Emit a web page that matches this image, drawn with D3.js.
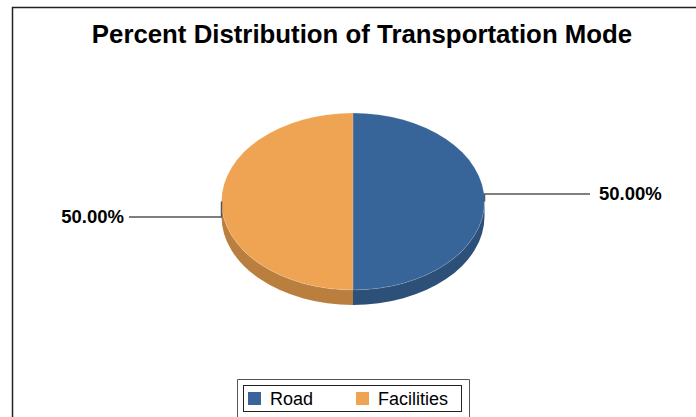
<!DOCTYPE html>
<html>
<head>
<meta charset="utf-8">
<script src="https://cdn.jsdelivr.net/npm/d3@7"></script>
<style>
  body { margin: 0; background: #fff; }
  svg { display: block; font-family: "Liberation Sans", Arial, sans-serif; }
</style>
</head>
<body>
<div id="chart"></div>
<script>
// DATA
const categories = ["Road", "Facilities"];
const values = [50, 50];
const labels = ["50.00%", "50.00%"];
const colors = ["#386599", "#EEA453"];
const sideColors = ["#2D5079", "#BA7F3E"];

const width = 696, height = 417;

// pie geometry (ellipse for the tilted 3D pie)
const cx = 353, cy = 201.5, rx = 131.5, ry = 88.5, depth = 15;

const svg = d3.select("#chart").append("svg")
  .attr("width", width)
  .attr("height", height);

// chart frame (left + top edges only show in the crop)
svg.append("path")
  .attr("d", `M12.5,${height} L12.5,7.5 L${width},7.5`)
  .attr("fill", "none")
  .attr("stroke", "#222")
  .attr("stroke-width", 1.5);

// title
svg.append("text")
  .attr("x", 362)
  .attr("y", 43)
  .attr("text-anchor", "middle")
  .attr("font-size", 25.8)
  .attr("font-weight", "bold")
  .attr("fill", "#000")
  .text("Percent Distribution of Transportation Mode");

const pie = d3.pie().sort(null).value(d => d);
const arcs = pie(values);

// point on the ellipse for a d3 angle (0 = top, clockwise)
const pt = (a, dy = 0) => [cx + rx * Math.sin(a), cy - ry * Math.cos(a) + dy];

// side walls, only the front half is visible
arcs.forEach((d, i) => {
  const s = Math.max(d.startAngle, Math.PI / 2);
  const e = Math.min(d.endAngle, Math.PI * 3 / 2);
  if (e <= s) return;
  const large = e - s > Math.PI ? 1 : 0;
  const p0 = pt(s), p1 = pt(e), q1 = pt(e, depth), q0 = pt(s, depth);
  svg.append("path")
    .attr("d", `M${p0} A${rx},${ry} 0 ${large} 1 ${p1} L${q1} A${rx},${ry} 0 ${large} 0 ${q0} Z`)
    .attr("fill", sideColors[i]);
});

// top face
svg.selectAll("path.slice")
  .data(arcs)
  .join("path")
  .attr("class", "slice")
  .attr("d", d => {
    const large = d.endAngle - d.startAngle > Math.PI ? 1 : 0;
    return `M${cx},${cy} L${pt(d.startAngle)} A${rx},${ry} 0 ${large} 1 ${pt(d.endAngle)} Z`;
  })
  .attr("fill", (d, i) => colors[i])
  .attr("stroke", "#fff")
  .attr("stroke-opacity", 0.25)
  .attr("stroke-width", 0.6);

// leader lines + labels
const labelPos = [
  { dy: -7.5, x2: 590, tx: 599, anchor: "start" },
  { dy: 15.5, x2: 129, tx: 124, anchor: "end" }
];
arcs.forEach((d, i) => {
  const mid = (d.startAngle + d.endAngle) / 2;
  const [ax, ay] = pt(mid);
  const lp = labelPos[i];
  svg.append("path")
    .attr("d", `M${ax},${ay} L${ax},${ay + lp.dy} L${lp.x2},${ay + lp.dy}`)
    .attr("fill", "none")
    .attr("stroke", "#555")
    .attr("stroke-width", 1.5);
  svg.append("text")
    .attr("x", lp.tx)
    .attr("y", ay + lp.dy)
    .attr("dy", "0.35em")
    .attr("text-anchor", lp.anchor)
    .attr("font-size", 18.5)
    .attr("font-weight", "bold")
    .attr("fill", "#000")
    .text(labels[i]);
});

// legend
svg.append("path")
  .attr("d", `M237.5,${height} L237.5,379.5 L469.5,379.5 L469.5,${height}`)
  .attr("fill", "none")
  .attr("stroke", "#555")
  .attr("stroke-width", 1);
svg.append("rect")
  .attr("x", 243.5).attr("y", 385.5)
  .attr("width", 218).attr("height", 26)
  .attr("fill", "#fff")
  .attr("stroke", "#222")
  .attr("stroke-width", 1);

const legendX = [248, 356];
const items = svg.selectAll("g.legend-item")
  .data(categories)
  .join("g")
  .attr("class", "legend-item")
  .attr("transform", (d, i) => `translate(${legendX[i]}, 392)`);
items.append("rect")
  .attr("width", 13).attr("height", 13)
  .attr("fill", (d, i) => colors[i]);
items.append("text")
  .attr("x", 22)
  .attr("y", 13)
  .attr("font-size", 18)
  .attr("fill", "#000")
  .text(d => d);
</script>
</body>
</html>
